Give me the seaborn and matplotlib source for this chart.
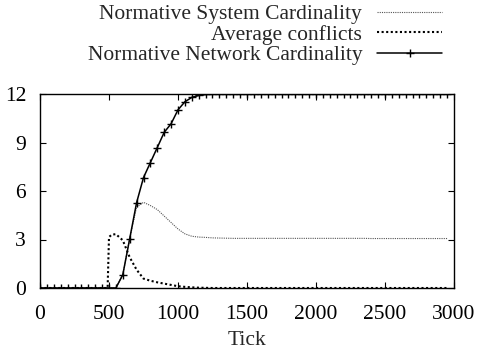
import numpy as np
import pandas as pd
import matplotlib
matplotlib.use("Agg")
import matplotlib.pyplot as plt
import seaborn as sns

# Ticks sampled every 50 for the two cardinality series
ticks = list(range(0, 3000, 50))

network_card = [0.0] * 11 + [
    0.0, 0.82, 3.05, 5.28, 6.83, 7.76, 8.69, 9.63, 10.16, 11.02,
    11.52, 11.79, 11.91, 11.97,
] + [12.0] * 35

system_card = [0.0] * 12 + [
    0.82, 3.05, 5.0, 5.3, 5.1, 4.85, 4.45, 4.05, 3.65, 3.35,
    3.2, 3.15, 3.13, 3.1, 3.09, 3.08,
] + [3.07] * 20 + [3.06] * 12

# Average conflicts has its own (irregular) sample ticks
conflict_ticks = [0, 490, 500, 520, 550, 600, 650, 700, 750, 800, 850, 900,
                  950, 1000, 1050, 1100, 1150, 1200, 1250, 2950]
avg_conflicts = [0.0, 0.0, 3.15, 3.3, 3.33, 2.95, 1.9, 1.13, 0.58, 0.45, 0.35,
                 0.27, 0.19, 0.11, 0.07, 0.04, 0.02, 0.01, 0.0, 0.0]

df = pd.DataFrame({"tick": ticks, "system": system_card, "network": network_card})
df_c = pd.DataFrame({"tick": conflict_ticks, "conflicts": avg_conflicts})

FS = 15.5

sns.set_style("ticks")
plt.rcParams["font.family"] = ["Liberation Serif", "DejaVu Serif"]
plt.rcParams["font.size"] = FS

fig = plt.figure(figsize=(4.81, 3.56), dpi=100)
ax = fig.add_axes([40 / 481, 1 - 288 / 356, 414 / 481, 194 / 356])

sns.lineplot(data=df, x="tick", y="system", ax=ax, color="#555555", lw=0.8,
             linestyle=(0, (1, 1)), label="Normative System Cardinality")
sns.lineplot(data=df_c, x="tick", y="conflicts", ax=ax, color="black", lw=1.5,
             linestyle=(0, (1, 1.2)), label="Average conflicts")
sns.lineplot(data=df, x="tick", y="network", ax=ax, color="black", lw=1.1,
             marker="+", markersize=6, markeredgewidth=1.0,
             markeredgecolor="black", markerfacecolor="black",
             label="Normative Network Cardinality")

ax.set_xlim(0, 3000)
ax.set_ylim(0, 12)
ax.set_xticks(range(0, 3001, 500))
ax.set_yticks(range(0, 13, 3))
ax.tick_params(direction="in", top=True, right=True, length=4, width=0.8,
               labelsize=FS, pad=10, colors="black")
ax.tick_params(axis="x", pad=12)
for s in ax.spines.values():
    s.set_linewidth(1.0)
    s.set_color("black")
ax.set_xlabel("Tick", fontsize=FS, labelpad=5)
ax.set_ylabel("")

handles, labels = ax.get_legend_handles_labels()
ax.legend(handles, labels, loc="upper right",
          bbox_to_anchor=(444 / 481, 1 - 2 / 356),
          bbox_transform=fig.transFigure, frameon=False, markerfirst=False,
          handlelength=3.0, handletextpad=0.7, labelspacing=0.02,
          borderaxespad=0.0, borderpad=0.1, fontsize=FS)

fig.savefig("out.png", dpi=100)
